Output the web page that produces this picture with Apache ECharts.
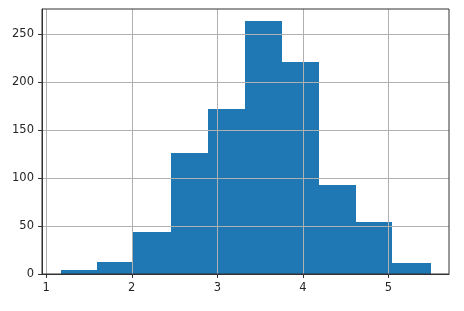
<!DOCTYPE html>
<html>
<head>
<meta charset="utf-8">
<script src="https://cdn.jsdelivr.net/npm/echarts@6/dist/echarts.min.js"></script>
<style>html,body{margin:0;padding:0;background:#fff;}#c{width:464px;height:311px;}</style>
</head>
<body>
<div id="c"></div>
<script>
const binEdges = [1.168, 1.594, 2.016, 2.462, 2.891, 3.329, 3.755, 4.192, 4.626, 5.048, 5.494];
const counts = [4, 13, 44, 126, 172, 263, 221, 93, 54, 11];
const xTicks = [1, 2, 3, 4, 5];
const yTicks = [0, 50, 100, 150, 200, 250];

const data = counts.map((c, i) => [binEdges[i], binEdges[i + 1], c]);

const chart = echarts.init(document.getElementById('c'), null, {renderer: 'canvas'});
const axisText = {color: '#262626', fontFamily: 'DejaVu Sans', fontSize: 11.5};
chart.setOption({
  animation: false,
  backgroundColor: '#fff',
  grid: {left: 42, right: 15, top: 9, bottom: 37, show: true, borderColor: '#333', borderWidth: 1, backgroundColor: 'transparent', z: 10},
  xAxis: {
    type: 'value', min: 0.95, max: 5.71, z: 5,
    axisLine: {show: true, onZero: false, lineStyle: {color: '#333', width: 1}},
    axisTick: {show: true, length: 4, customValues: xTicks, lineStyle: {color: '#333'}},
    axisLabel: Object.assign({margin: 8, customValues: xTicks, formatter: v => String(v)}, axisText),
    splitLine: {show: false}
  },
  yAxis: {
    type: 'value', min: 0, max: 276, interval: 50, z: 5,
    axisLine: {show: true, lineStyle: {color: '#333', width: 1}},
    axisTick: {show: true, length: 4, customValues: yTicks, lineStyle: {color: '#333'}},
    axisLabel: Object.assign({margin: 8, customValues: yTicks}, axisText),
    splitLine: {show: true, lineStyle: {color: '#b0b0b0', width: 1}}
  },
  series: [{
    type: 'custom',
    z: 2,
    data: data,
    encode: {x: [0, 1], y: 2},
    renderItem: function (params, api) {
      const p0 = api.coord([api.value(0), api.value(2)]);
      const p1 = api.coord([api.value(1), 0]);
      const x0 = Math.round(p0[0]), x1 = Math.round(p1[0]);
      const y0 = Math.round(p0[1]), y1 = Math.round(p1[1]);
      return {
        type: 'rect',
        shape: {x: x0, y: y0, width: x1 - x0, height: y1 - y0},
        style: {fill: '#1f77b4'}
      };
    }
  }, {
    type: 'line',
    z: 4,
    data: [],
    markLine: {
      silent: true,
      symbol: 'none',
      label: {show: false},
      lineStyle: {color: '#b0b0b0', width: 1, type: 'solid'},
      data: xTicks.map(v => ({xAxis: v}))
    }
  }]
});
</script>
</body>
</html>
